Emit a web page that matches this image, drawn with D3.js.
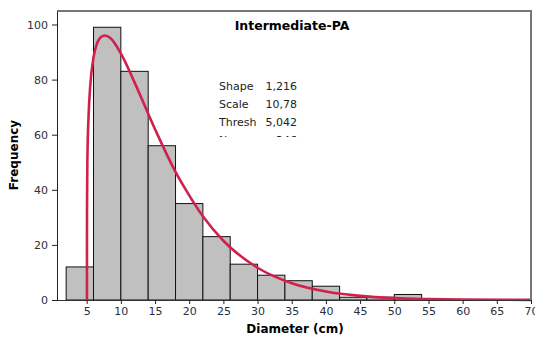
<!DOCTYPE html>
<html>
<head>
<meta charset="utf-8">
<script src="https://cdn.jsdelivr.net/npm/d3@7"></script>
<style>
  body { margin: 0; background: #fff; }
  svg { display: block; font-family: "DejaVu Sans", Verdana, sans-serif; }
</style>
</head>
<body>
<svg id="chart" width="535" height="339"></svg>
<script>
// histogram bins (cm) and counts
const binStarts = [2, 6, 10, 14, 18, 22, 26, 30, 34, 38, 42, 46, 50];
const binWidth = 4;
const counts = [12, 99, 83, 56, 35, 23, 13, 9, 7, 5, 1, 1, 2];

// fitted curve
const curveX = [5.04, 5.05, 5.1, 5.3, 5.5, 6, 6.5, 7, 7.6, 8.5, 10, 12, 15, 18, 20, 22, 25, 30, 35, 40, 45, 50, 55, 60, 70];
const curveY = [0, 33, 50, 68, 77, 88, 93, 95.2, 96, 95, 89.5, 79, 62, 46.5, 38, 30.4, 21.5, 11.7, 6.1, 3.1, 1.5, 0.7, 0.35, 0.16, 0.03];

const xTicks = [5, 10, 15, 20, 25, 30, 35, 40, 45, 50, 55, 60, 65, 70];
const yTicks = [0, 20, 40, 60, 80, 100];

const stats = [
    { label: "Shape", value: "1,216" },
    { label: "Scale", value: "10,78" },
    { label: "Thresh", value: "5,042" },
    { label: "N", value: "346" }
];

const plotLeft = 57, plotRight = 531, plotTop = 11, plotBottom = 300;

const svg = d3.select("#chart");

const x = d3.scaleLinear().domain([0.66, 70]).range([plotLeft, plotRight]);
const y = d3.scaleLinear().domain([0, 104.9]).range([plotBottom, plotTop]);

// bars
svg.append("g")
    .selectAll("rect")
    .data(binStarts)
    .join("rect")
    .attr("x", d => x(d))
    .attr("width", d => x(d + binWidth) - x(d))
    .attr("y", (d, i) => y(counts[i]))
    .attr("height", (d, i) => y(0) - y(counts[i]))
    .attr("fill", "#c0c0c0")
    .attr("stroke", "#111")
    .attr("stroke-width", 1);

// curve
const line = d3.line()
    .x((d, i) => x(curveX[i]))
    .y(d => y(d))
    .curve(d3.curveMonotoneX);

svg.append("path")
    .datum(curveY)
    .attr("fill", "none")
    .attr("stroke", "#d0204c")
    .attr("stroke-width", 2.6)
    .attr("d", line);

// frame top/right
svg.append("path")
    .attr("d", `M${plotLeft},${plotTop}H${plotRight}V${plotBottom}`)
    .attr("fill", "none")
    .attr("stroke", "#777")
    .attr("stroke-width", 2);

// axes
const xAxis = svg.append("g")
    .attr("transform", `translate(0,${plotBottom})`)
    .call(d3.axisBottom(x).tickValues(xTicks).tickSize(4).tickSizeOuter(0).tickPadding(3));
xAxis.select(".domain").attr("stroke", "#333").attr("d", `M${plotLeft},0.5H${plotRight}`);

const yAxis = svg.append("g")
    .attr("transform", `translate(${plotLeft},0)`)
    .call(d3.axisLeft(y).tickValues(yTicks).tickSize(5).tickSizeOuter(0).tickPadding(4));
yAxis.select(".domain").attr("stroke", "#222");

svg.selectAll(".tick text")
    .style("font-family", "DejaVu Sans, sans-serif")
    .style("font-size", "11px")
    .attr("fill", "#2a2f3a");
svg.selectAll(".tick line").attr("stroke", "#222");

// labels
svg.append("text")
    .attr("x", 292).attr("y", 30)
    .attr("text-anchor", "middle")
    .style("font-weight", "bold").style("font-size", "12.5px")
    .text("Intermediate-PA");

svg.append("text")
    .attr("x", 295).attr("y", 333)
    .attr("text-anchor", "middle")
    .style("font-weight", "bold").style("font-size", "12px")
    .text("Diameter (cm)");

svg.append("text")
    .attr("transform", "translate(18,155) rotate(-90)")
    .attr("text-anchor", "middle")
    .style("font-weight", "bold").style("font-size", "12px")
    .text("Frequency");

// stats box, clipped at the bottom like the original
svg.append("clipPath").attr("id", "statsClip")
    .append("rect").attr("x", 210).attr("y", 70).attr("width", 100).attr("height", 67);

const statsG = svg.append("g").attr("clip-path", "url(#statsClip)")
    .style("font-size", "11px").attr("fill", "#222");

statsG.selectAll("text.lab")
    .data(stats)
    .join("text")
    .attr("class", "lab")
    .attr("x", 219)
    .attr("y", (d, i) => 90 + i * 18)
    .text(d => d.label);

statsG.selectAll("text.val")
    .data(stats)
    .join("text")
    .attr("class", "val")
    .attr("x", 297)
    .attr("text-anchor", "end")
    .attr("y", (d, i) => 90 + i * 18)
    .text(d => d.value);
</script>
</body>
</html>
